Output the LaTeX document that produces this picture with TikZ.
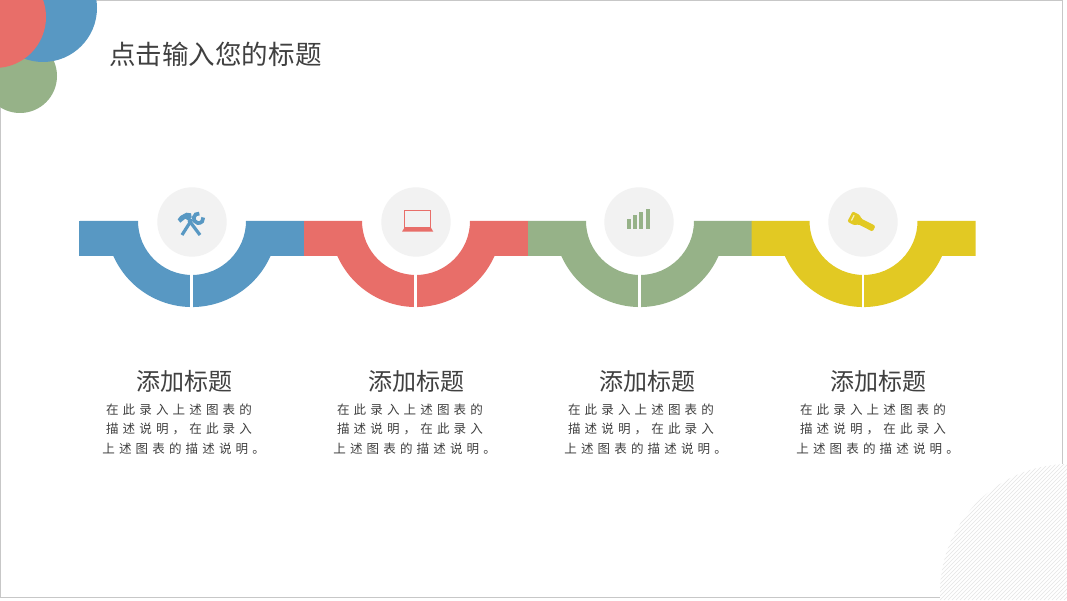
\documentclass[tikz,border=0pt]{standalone}
\usepackage{fontspec}
\setmainfont{Noto Sans CJK SC}
\newfontfamily\bodyfont[LetterSpace=33]{Noto Sans CJK SC}
\usepackage{tikz}
\definecolor{bandblue}{HTML}{5898C3}
\definecolor{bandred}{HTML}{E86E69}
\definecolor{bandgreen}{HTML}{96B288}
\definecolor{bandyellow}{HTML}{E2C923}
\definecolor{textgray}{HTML}{404040}
\tikzset{
    iconbg/.style={circle, fill=black!5, minimum size=52pt, inner sep=0pt},
    pagetitle/.style={anchor=west, text=textgray, font=\fontsize{19.9pt}{24pt}\selectfont, inner sep=0pt},
    heading/.style={text=textgray, font=\fontsize{18pt}{22pt}\selectfont, inner sep=0pt},
    blurb/.style={text=textgray, align=center, font=\bodyfont\fontsize{9.4pt}{14.6pt}\selectfont, inner sep=0pt},
}
\newcommand{\bandseg}[2]{
    \fill[#2] (#1-112,379) -- (#1-54,379) arc (180:360:54) -- (#1+112,379) -- (#1+112,344)
        -- (#1+78.5,344) arc (-24:-156:86) -- (#1-112,344) -- cycle;
    \draw[white, line width=1.9pt] (#1-0.7,290) -- (#1-0.7,327);
}
\newcommand{\blurbtext}{在此录入上述图表的\\描述说明，在此录入\\上述图表的描述说明。\hspace*{-7pt}}
\begin{document}
\begin{tikzpicture}[x=0.75pt, y=0.75pt]
    \useasboundingbox (0,0) rectangle (1067,600);
    \fill[white] (0,0) rectangle (1067,600);
    \draw[black!22, line width=0.75pt] (0.5,3) rectangle (1062,599.5);

    % Corner discs
    \begin{scope}
        \clip (0,0) rectangle (1067,600);
        \fill[bandgreen] (20,524) circle (37);
        \fill[bandblue] (43,592) circle (54);
        \fill[bandred] (-5,583) circle (51);
    \end{scope}

    % Hatched disc
    \begin{scope}
        \clip (0,0) rectangle (1067,600);
        \fill[white] (1069,7) circle (129);
        \clip (1069,7) circle (129);
        \foreach \d in {800,804,...,1080}
            \draw[black!10, line width=0.5pt] (\d,0) -- ({\d+150},150);
    \end{scope}

    % Bands
    \bandseg{192}{bandblue}
    \bandseg{416}{bandred}
    \bandseg{640}{bandgreen}
    \bandseg{863.5}{bandyellow}
    \fill[bandblue] (79,344) rectangle (81,379);

    % Icon discs
    \node (tools) at (192,378) [iconbg] {};
    \node (laptop) at (416,378) [iconbg] {};
    \node (bars) at (639,378) [iconbg] {};
    \node (torch) at (863,378) [iconbg] {};

    % Tools icon
    \draw[bandblue, line width=2.4pt] (192,380.7) -- (182,365);
    \fill[bandblue] (177.7,380.7) -- (180.3,384) -- (186.3,387.3) -- (191,386.7) -- (191.7,382.7)
        -- (188.7,379.3) -- (185.3,381.3) -- (180.3,377.3) -- cycle;
    \draw[bandblue, line width=2.4pt] (188.7,380) -- (200,365);
    \draw[bandblue, line width=2.8pt] (198.5,381.7) ++(80:4.8) arc (80:370:4.8);

    % Laptop icon
    \draw[bandred, line width=1.1pt] (404.7,372.7) rectangle (430.7,389.3);
    \fill[bandred] (402,368.3) -- (433.3,368.3) -- (430.7,372.7) -- (404.7,372.7) -- cycle;

    % Bars icon
    \fill[bandgreen] (627,371) rectangle (631,380.7);
    \fill[bandgreen] (633,371) rectangle (637,384.7);
    \fill[bandgreen] (639.3,371) rectangle (643.3,388);
    \fill[bandgreen] (646,371) rectangle (649.7,390.7);

    % Torch icon
    \begin{scope}[shift={(850,383.5)}, rotate=-27]
        \fill[bandyellow, rounded corners=1pt] (0,-5.8) -- (0,5.8) -- (8,5.8) -- (11,3.2) -- (27,3.2) -- (27,-3.2) -- (11,-3.2) -- (8,-5.8) -- cycle;
        \fill[white!70!bandyellow] (2.5,-3) rectangle (3.7,3);
    \end{scope}

    % Texts
    \node (title) at (109,546) [pagetitle] {点击输入您的标题};

    \node (head1) at (184.5,219) [heading] {添加标题};
    \node (head2) at (416,219) [heading] {添加标题};
    \node (head3) at (647,219) [heading] {添加标题};
    \node (head4) at (878,219) [heading] {添加标题};

    \node (text1) at (179,171) [blurb] {\blurbtext};
    \node (text2) at (410,171) [blurb] {\blurbtext};
    \node (text3) at (641,171) [blurb] {\blurbtext};
    \node (text4) at (873,171) [blurb] {\blurbtext};
\end{tikzpicture}
\end{document}
